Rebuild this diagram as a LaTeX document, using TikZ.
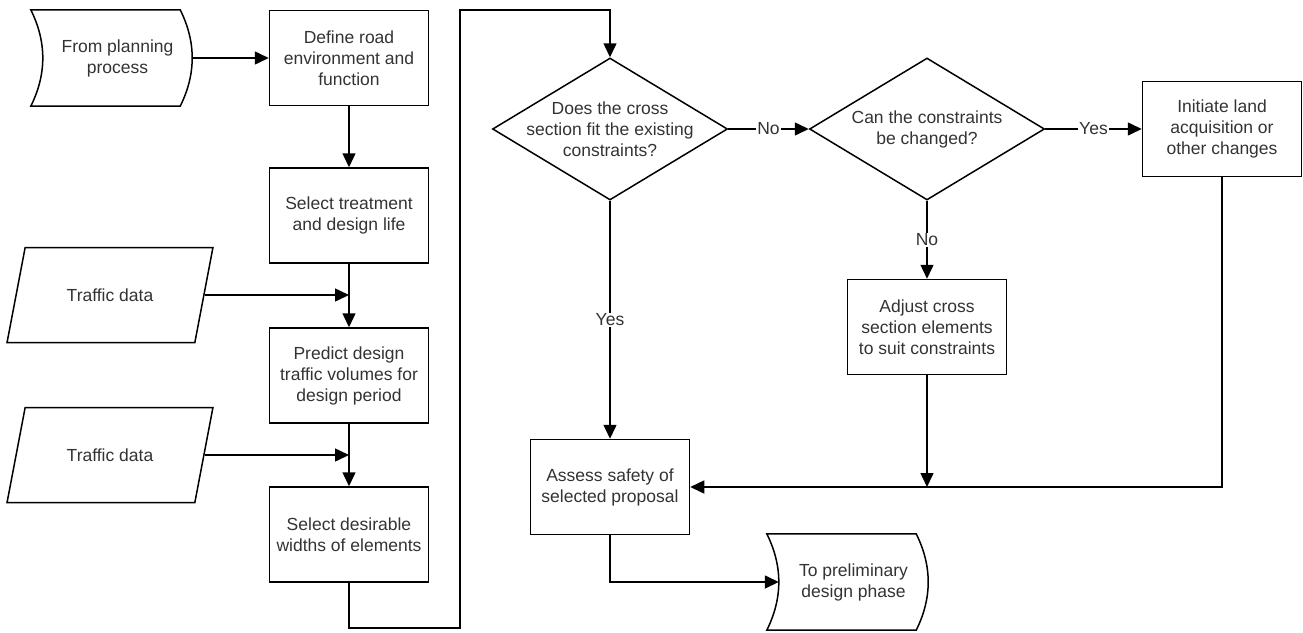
\documentclass[tikz,border=0pt]{standalone}
\usepackage{fontspec}
\setmainfont{Liberation Sans}
\usetikzlibrary{arrows.meta,shapes.geometric}

\begin{document}
\begin{tikzpicture}[x=1pt, y=-1pt,
    every node/.style={font=\fontsize{17.5}{21}\selectfont, text=black!80},
    flow/.style={line width=1.5pt, -{Triangle[length=14pt,width=13pt]}},
    procbox/.style={draw, line width=1.5pt, minimum width=159pt, minimum height=95pt, align=center, inner sep=2pt},
    decision/.style={draw, diamond, line width=1.5pt, minimum width=235pt, minimum height=142pt, inner sep=0pt},
    datain/.style={draw, trapezium, trapezium left angle=63, trapezium right angle=117, trapezium stretches=true, minimum width=206pt, minimum height=95pt, line width=1.5pt},
    term/.style={minimum width=149pt, minimum height=96pt, align=center},
    answer/.style={fill=white, inner sep=1pt}
]
    \useasboundingbox (0,0) rectangle (1303,632);

    % left column
    \node[term] (from) at (117.5,58) {From planning\\process};
    \node[procbox] (define) at (349,58) {Define road\\environment and\\function};
    \node[procbox] (treat) at (349,215.5) {Select treatment\\and design life};
    \node[procbox] (predict) at (349,375.5) {Predict design\\traffic volumes for\\design period};
    \node[procbox] (desir) at (349,534.5) {Select desirable\\widths of elements};
    \node[datain] (traffic1) at (110,295) {Traffic data};
    \node[datain] (traffic2) at (110,455) {Traffic data};

    % decisions
    \node[decision] (fit) at (610,129) {};
    \node[align=center] (fittext) at (fit) {Does the cross\\section fit the existing\\constraints?};
    \node[decision] (change) at (927,129) {};
    \node[align=center] (changetext) at (change) {Can the constraints\\be changed?};
    \node[procbox] (land) at (1222,129) {Initiate land\\acquisition or\\other changes};
    \node[procbox] (adjust) at (927,327) {Adjust cross\\section elements\\to suit constraints};
    \node[procbox] (assess) at (610,487) {Assess safety of\\selected proposal};
    \node[term] (topre) at (853.5,582) {To preliminary\\design phase};

    \coordinate (loopbot) at (460,628);
    \coordinate (looptop) at (460,10);

    \foreach \t in {from, topre} {
        \draw[line width=1.5pt] ([xshift=-12pt]\t.north west) -- ([xshift=-12pt]\t.north east)
            .. controls ([xshift=4pt,yshift=16pt]\t.east) and ([xshift=4pt,yshift=-16pt]\t.east) .. ([xshift=-12pt]\t.south east)
            -- ([xshift=-12pt]\t.south west)
            .. controls ([xshift=4pt,yshift=-16pt]\t.west) and ([xshift=4pt,yshift=16pt]\t.west) .. cycle;
    }

    \draw[flow] (from.east) -- (define.west);
    \draw[flow] (define.south) -- (treat.north);
    \draw[flow] (treat.south) -- (predict.north);
    \draw[flow] (traffic1.east) -- (traffic1.east -| treat.south);
    \draw[flow] (predict.south) -- (desir.north);
    \draw[flow] (traffic2.east) -- (traffic2.east -| predict.south);
    \draw[flow] (desir.south) |- (loopbot) -- (looptop) -| (fit.north);

    \draw[flow] (fit.east) -- node[answer] (no1) {No} (change.west);
    \draw[flow] (change.east) -- node[answer] (yes1) {Yes} (land.west);
    \draw[flow] (change.south) -- node[answer] (no2) {No} (adjust.north);
    \draw[flow] (fit.south) -- node[answer] (yes2) {Yes} (assess.north);
    \draw[flow] (land.south) |- (assess.east);
    \draw[flow] (adjust.south) -- (adjust.south |- assess.east);
    \draw[flow] (assess.south) |- (topre.west);
\end{tikzpicture}
\end{document}
